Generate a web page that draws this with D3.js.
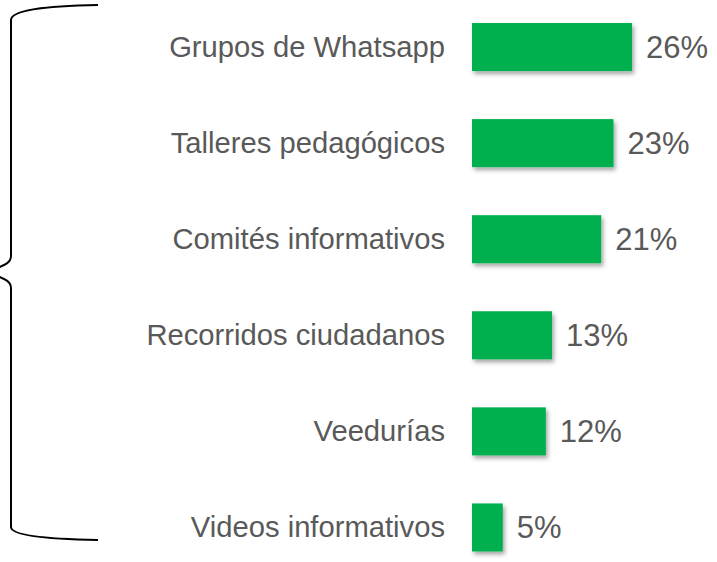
<!DOCTYPE html>
<html>
<head>
<meta charset="utf-8">
<script src="https://cdn.jsdelivr.net/npm/d3@7"></script>
<style>
  html, body { margin: 0; padding: 0; background: #fff; }
  svg { display: block; }
</style>
</head>
<body>
<svg id="chart" width="717" height="562"></svg>
<script>
const categories = [
  "Grupos de Whatsapp",
  "Talleres pedagógicos",
  "Comités informativos",
  "Recorridos ciudadanos",
  "Veedurías",
  "Videos informativos"
];
const values = [26, 23, 21, 13, 12, 5];

const svg = d3.select("#chart");

const defs = svg.append("defs");
const shadow = defs.append("filter").attr("id", "barShadow")
  .attr("x", "-10%").attr("y", "-10%").attr("width", "130%").attr("height", "140%");
shadow.append("feDropShadow")
  .attr("dx", 2).attr("dy", 3).attr("stdDeviation", 2)
  .attr("flood-color", "#000").attr("flood-opacity", 0.35);

const x = d3.scaleLinear().domain([0, 26]).range([472, 632]);
const y = d3.scaleBand().domain(categories).range([-1, 575.5]).paddingInner(0.5).paddingOuter(0.25);

// Bars
svg.append("g").selectAll("rect")
  .data(values)
  .join("rect")
  .attr("x", x(0))
  .attr("y", (d, i) => y(categories[i]))
  .attr("width", d => x(d) - x(0))
  .attr("height", y.bandwidth())
  .attr("fill", "#00B050")
  .attr("filter", "url(#barShadow)");

// Category labels
svg.append("g").selectAll("text")
  .data(categories)
  .join("text")
  .attr("x", 445)
  .attr("y", d => y(d) + y.bandwidth() / 2)
  .attr("dy", "0.33em")
  .attr("text-anchor", "end")
  .attr("font-family", "'Liberation Sans', Arial, sans-serif")
  .attr("font-size", 29.2)
  .attr("fill", "#595959")
  .text(d => d);

// Value labels
svg.append("g").selectAll("text")
  .data(values)
  .join("text")
  .attr("x", d => x(d) + 14)
  .attr("y", (d, i) => y(categories[i]) + y.bandwidth() / 2)
  .attr("dy", "0.355em")
  .attr("font-family", "'Liberation Sans', Arial, sans-serif")
  .attr("font-size", 31)
  .attr("fill", "#595959")
  .text(d => d + "%");

// Curly brace grouping all items
svg.append("path")
  .attr("d", "M98,5 C45,6 11,10 11,20 L11,256 C11,263 5,265 -12,272 C5,279 11,281 11,288 L11,527 C11,535 45,539 98,540")
  .attr("fill", "none")
  .attr("stroke", "#000")
  .attr("stroke-width", 2);
</script>
</body>
</html>
